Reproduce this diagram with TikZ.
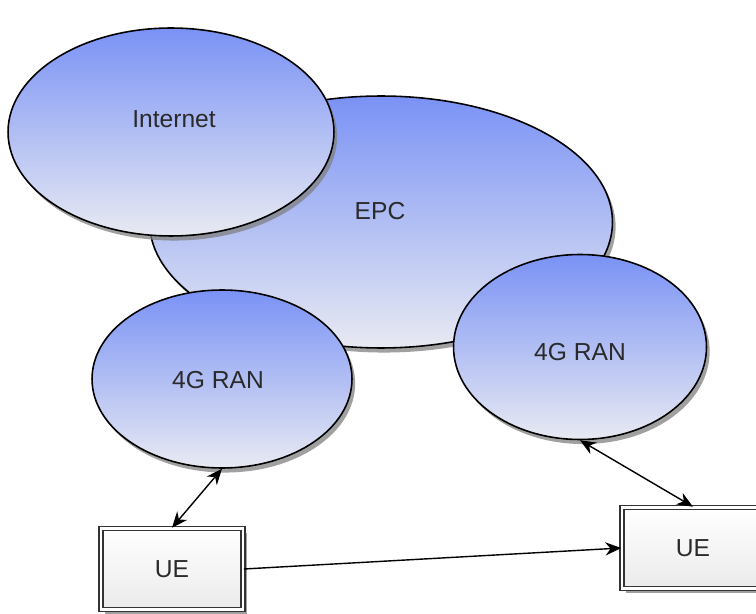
\documentclass[tikz,border=0pt]{standalone}
\usepackage{fontspec}
\setmainfont{Liberation Sans}
\usetikzlibrary{positioning,arrows.meta,shapes.geometric,shadows}
\definecolor{cloudtop}{HTML}{7A92F5}
\definecolor{cloudbot}{HTML}{E8EAF2}
\definecolor{txtgray}{HTML}{2A2A2A}

\begin{document}
\begin{tikzpicture}[x=0.02cm,y=-0.02cm,
  cloud/.style={ellipse,draw=black,line width=0.9pt,inner sep=0pt,
    top color=cloudtop,bottom color=cloudbot,
    drop shadow={shadow xshift=1.8pt,shadow yshift=-2.6pt,fill=black!50,opacity=0.75}},
  uebox/.style={rectangle,draw=black!80,double=white,double distance=1.6pt,line width=0.9pt,
    top color=white,bottom color=black!8,minimum width=2.84cm,minimum height=1.62cm,
    font=\fontsize{14}{16}\selectfont,text=txtgray,
    drop shadow={shadow xshift=2.2pt,shadow yshift=-2.8pt,fill=black!50,opacity=0.75}},
  lbl/.style={font=\fontsize{14}{16}\selectfont,text=txtgray},
  link/.style={line width=0.8pt,{Stealth[length=9pt,width=7.5pt]}-{Stealth[length=9pt,width=7.5pt]}},
  oneway/.style={line width=0.8pt,-{Stealth[length=9pt,width=7.5pt]}}
]
\useasboundingbox (0,0) rectangle (756,614);

% core network and internet
\node[cloud,minimum width=9.26cm,minimum height=5.04cm] (epc) at (381,222) {};
\node[cloud,minimum width=6.52cm,minimum height=4.16cm] (inet) at (171,132) {};
\node[lbl] (epctxt) at (380,211) {EPC};
\node[lbl] (inettxt) at (174,119) {Internet};

% radio access networks
\node[cloud,minimum width=5.2cm,minimum height=3.56cm] (ranL) at (222,379) {};
\node[cloud,minimum width=5.06cm,minimum height=3.7cm] (ranR) at (580,347) {};
\node[lbl] (ranLtxt) at (218,380) {4G RAN};
\node[lbl] (ranRtxt) at (580,352) {4G RAN};

% user equipment
\node[uebox] (ueL) at (172,569) {UE};
\node[uebox] (ueR) at (693,548) {UE};

% links
\draw[link] (ranL.south) -- (ueL.north);
\draw[link] (ranR.south) -- (ueR.north);
\draw[oneway] (ueL.east) -- (ueR.west);
\end{tikzpicture}
\end{document}
